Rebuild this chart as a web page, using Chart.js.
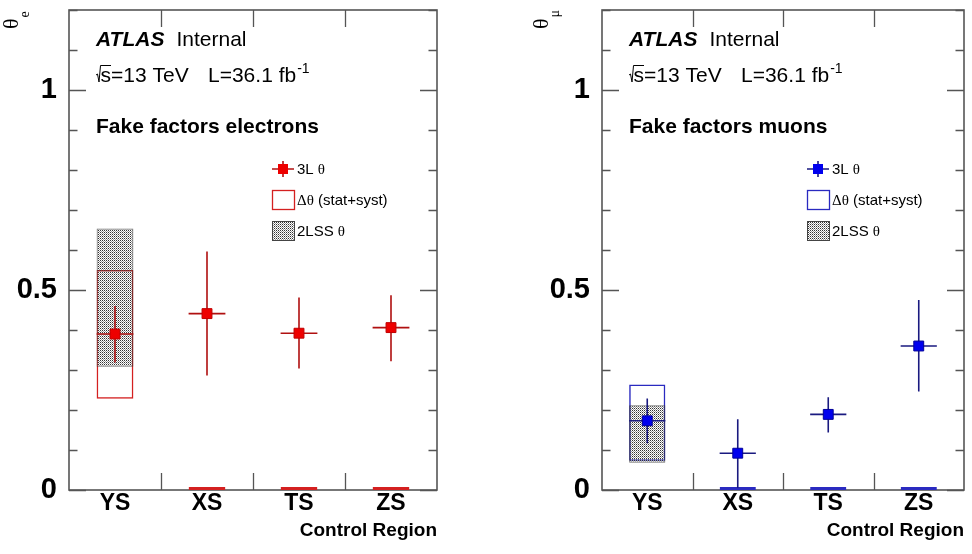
<!DOCTYPE html>
<html><head><meta charset="utf-8">
<script src="https://cdn.jsdelivr.net/npm/chart.js@4.4.1/dist/chart.umd.min.js"></script>
<style>
html,body{margin:0;padding:0;background:#fff;}
#wrap{position:relative;width:972px;height:554px;background:#fff;}
.panel{position:absolute;top:0;width:486px;height:554px;}
</style></head><body>
<div id="wrap">
<div class="panel" style="left:0"><canvas id="cE" width="486" height="554"></canvas></div>
<div class="panel" style="left:486px"><canvas id="cM" width="486" height="554"></canvas></div>
</div>
<script>
// ---------------- data ----------------
const categories = ['YS', 'XS', 'TS', 'ZS'];
const yLabelValues = [0, 0.5, 1];
const xAxisTitle = 'Control Region';

const elecTheta3L  = [0.390, 0.441, 0.392, 0.406];
const elecErrLow   = [0.319, 0.286, 0.304, 0.322];
const elecErrHigh  = [0.460, 0.596, 0.481, 0.487];
const elecDeltaLow  = [0.228, 0, 0, 0];
const elecDeltaHigh = [0.550, 0, 0, 0];
const elec2LSSLow   = [0.308, null, null, null];
const elec2LSSHigh  = [0.654, null, null, null];

const muonTheta3L  = [0.173, 0.092, 0.189, 0.360];
const muonErrLow   = [0.117, 0.005, 0.144, 0.246];
const muonErrHigh  = [0.229, 0.177, 0.232, 0.475];
const muonDeltaLow  = [0.073, 0, 0, 0];
const muonDeltaHigh = [0.264, 0, 0, 0];
const muon2LSSLow   = [0.068, null, null, null];
const muon2LSSHigh  = [0.212, null, null, null];

const legendLabels = ['3L θ', 'Δθ (stat+syst)', '2LSS θ'];
const XERR = 0.2; // horizontal half-width of error bars, in bins

// ---------------- helpers ----------------
const SANS = '"Liberation Sans", Arial, Helvetica, sans-serif';
const SERIF = '"Liberation Serif", "Times New Roman", serif';

function floating(low, high){ return low.map((l,i)=> l==null ? null : [l, high[i]]); }

function makeHatch(){
  const c = document.createElement('canvas'); c.width = 2; c.height = 2;
  const g = c.getContext('2d');
  g.fillStyle = '#333'; g.fillRect(0,0,1,1);
  g.fillStyle = '#999'; g.fillRect(1,1,1,1);
  return document.getElementById('cE').getContext('2d').createPattern(c, 'repeat');
}

function drawRich(ctx, segs, x, y){
  for (const s of segs){
    ctx.font = s.font;
    ctx.fillText(s.t, x, y + (s.dy||0));
    x += ctx.measureText(s.t).width;
  }
  return x;
}
function splitGreek(text, size){
  const segs = []; let cur = '', curG = null;
  for (const ch of text){
    const g = /[\u0370-\u03FF]/.test(ch);
    if (curG === null || g === curG){ cur += ch; curG = g; }
    else { segs.push({t:cur, font: (curG? size+'px '+SERIF : size+'px '+SANS)}); cur = ch; curG = g; }
  }
  if (cur) segs.push({t:cur, font: (curG? size+'px '+SERIF : size+'px '+SANS)});
  return segs;
}

const decoPlugin = {
  id: 'deco',
  beforeDatasetsDraw(chart, args, o){
    const ctx = chart.ctx, a = chart.chartArea, ys = chart.scales.y, xs = chart.scales.x;
    ctx.save();
    ctx.strokeStyle = '#555'; ctx.lineWidth = 1.6;
    ctx.strokeRect(a.left, a.top, a.right - a.left, a.bottom - a.top);
    ctx.lineWidth = 1.3;
    ctx.beginPath();
    for (let k = 0; k <= 12; k++){
      const v = k / 10, py = Math.round(ys.getPixelForValue(v)) + 0.5;
      const len = (k % 5 === 0) ? 17 : 8.5;
      ctx.moveTo(a.left, py); ctx.lineTo(a.left + len, py);
      ctx.moveTo(a.right, py); ctx.lineTo(a.right - len, py);
    }
    for (let i = 1; i < categories.length; i++){
      const px = Math.round((xs.getPixelForValue(i-1) + xs.getPixelForValue(i)) / 2) + 0.5;
      ctx.moveTo(px, a.bottom); ctx.lineTo(px, a.bottom - 17);
      ctx.moveTo(px, a.top); ctx.lineTo(px, a.top + 17);
    }
    ctx.stroke();
    ctx.restore();
  },
  beforeDatasetDraw(chart, args, o){
    if (args.index !== o.pointIndex) return;
    const ctx = chart.ctx, ys = chart.scales.y, xs = chart.scales.x;
    const bin = xs.getPixelForValue(1) - xs.getPixelForValue(0);
    ctx.save();
    ctx.strokeStyle = o.errColor; ctx.lineWidth = 1.6;
    ctx.beginPath();
    args.meta.data.forEach((pt, i) => {
      const x = pt.x, y = pt.y;
      ctx.moveTo(x - XERR*bin, y); ctx.lineTo(x + XERR*bin, y);
      ctx.moveTo(x, ys.getPixelForValue(o.low[i])); ctx.lineTo(x, ys.getPixelForValue(o.high[i]));
    });
    ctx.stroke();
    ctx.restore();
  },
  afterDraw(chart, args, o){
    const ctx = chart.ctx, a = chart.chartArea, L = a.left;
    ctx.save();
    ctx.fillStyle = '#000'; ctx.textAlign = 'left'; ctx.textBaseline = 'alphabetic';
    ctx.font = 'italic bold 21px ' + SANS;
    ctx.fillText('ATLAS', L + 27, 46);
    const w = ctx.measureText('ATLAS').width;
    ctx.font = '21px ' + SANS;
    ctx.fillText('Internal', L + 27 + w + 12, 46);
    const x0 = L + 27;
    ctx.strokeStyle = '#000'; ctx.lineWidth = 1;
    ctx.beginPath();
    ctx.moveTo(x0, 75); ctx.lineTo(x0 + 1.5, 74); ctx.lineTo(x0 + 3, 82); ctx.lineTo(x0 + 4.5, 65.5); ctx.lineTo(x0 + 15, 65.5);
    ctx.stroke();
    ctx.font = '21px ' + SANS;
    ctx.fillText('s=13 TeV', x0 + 4.5, 82);
    let xe = drawRich(ctx, [{t:'L=36.1 fb', font:'21px ' + SANS}], L + 139, 82);
    ctx.font = '14px ' + SANS;
    ctx.fillText('-1', xe + 1, 73);
    ctx.font = 'bold 21px ' + SANS;
    ctx.fillText(o.title, L + 27, 133);
    // legend
    const rows = [169, 200, 231];
    const mx = L + o.legX;
    ctx.strokeStyle = o.errColor; ctx.lineWidth = 1.6;
    ctx.beginPath();
    ctx.moveTo(mx - 11, rows[0]); ctx.lineTo(mx + 11, rows[0]);
    ctx.moveTo(mx, rows[0] - 8); ctx.lineTo(mx, rows[0] + 8);
    ctx.stroke();
    ctx.fillStyle = o.markerColor;
    ctx.fillRect(mx - 5, rows[0] - 5, 10, 10);
    const bx = mx - 11;
    ctx.strokeStyle = o.boxColor; ctx.lineWidth = 1.3;
    ctx.strokeRect(bx + 0.5, rows[1] - 9.5, 22, 19);
    ctx.fillStyle = o.hatch;
    ctx.fillRect(bx, rows[2] - 10, 23, 20);
    ctx.strokeStyle = '#444'; ctx.lineWidth = 1;
    ctx.strokeRect(bx + 0.5, rows[2] - 9.5, 22, 19);
    ctx.fillStyle = '#000'; ctx.textBaseline = 'middle';
    legendLabels.forEach((t, i) => { drawRich(ctx, splitGreek(t, 15), mx + 14, rows[i] + 1); });
    // y axis title (rotated)
    ctx.translate(L + o.titleDX, 29);
    ctx.rotate(-Math.PI / 2);
    ctx.textBaseline = 'alphabetic';
    ctx.font = '22px ' + SERIF;
    ctx.fillText('θ', 0, 0);
    const tw = ctx.measureText('θ').width;
    ctx.font = '14px ' + SERIF;
    ctx.fillText(o.sub, tw + 1, 11);
    ctx.restore();
  }
};

function makePanel(id, p){
  const ctx = document.getElementById(id).getContext('2d');
  return new Chart(ctx, {
    data: {
      labels: categories,
      datasets: [
        { type: 'line', label: legendLabels[0], data: p.value, showLine: false,
          pointStyle: 'rect', pointRadius: 7, pointHoverRadius: 7,
          pointBackgroundColor: p.markerColor, pointBorderColor: p.markerBorder, pointBorderWidth: 1, order: 0 },
        { type: 'bar', label: legendLabels[2], data: floating(p.lssLow, p.lssHigh),
          backgroundColor: p.hatch, borderColor: 'rgba(50,50,50,0.7)', borderWidth: 1, borderSkipped: false,
          barPercentage: 0.4, categoryPercentage: 1.0, grouped: false, order: 1 },
        { type: 'bar', label: legendLabels[1], data: floating(p.deltaLow, p.deltaHigh),
          backgroundColor: 'rgba(0,0,0,0)', borderColor: p.boxColor, borderWidth: 1.5, borderSkipped: false,
          minBarLength: 3, clip: false,
          barPercentage: 0.4, categoryPercentage: 1.0, grouped: false, order: 2 }
      ]
    },
    options: {
      responsive: false, animation: false, devicePixelRatio: 1,
      layout: { padding: { top: 10, right: p.padRight, left: 0, bottom: 0 } },
      plugins: {
        legend: { display: false }, tooltip: { enabled: false },
        deco: { pointIndex: 0, low: p.errLow, high: p.errHigh, errColor: p.errColor,
                markerColor: p.markerColor, boxColor: p.boxColor, hatch: p.hatch,
                title: p.title, sub: p.sub, legX: p.legX, titleDX: p.titleDX }
      },
      scales: {
        x: { type: 'category', offset: true,
             grid: { display: false, drawTicks: false }, border: { display: false },
             ticks: { font: { family: SANS, weight: 'bold', size: 23 }, color: '#000', padding: 0, maxRotation: 0, autoSkip: false },
             title: { display: true, text: xAxisTitle, align: 'end', color: '#000',
                      font: { family: SANS, weight: 'bold', size: 19 }, padding: { top: 0, bottom: 12 } },
             afterFit(s){ s.height = 64; s.paddingLeft = 0; s.paddingRight = 0; } },
        y: { type: 'linear', min: 0, max: 1.2,
             grid: { display: false, drawTicks: false }, border: { display: false },
             ticks: { stepSize: 0.1, autoSkip: false, padding: 12, color: '#000',
                      font: { family: SANS, weight: 'bold', size: 29 },
                      callback: (v) => { const m = yLabelValues.find(t => Math.abs(t - v) < 1e-6); return m === undefined ? '' : String(m); } },
             afterFit(s){ s.width = p.yWidth; s.paddingTop = 0; s.paddingBottom = 0; } }
      }
    },
    plugins: [decoPlugin]
  });
}

const hatch = makeHatch();
makePanel('cE', {
  value: elecTheta3L, errLow: elecErrLow, errHigh: elecErrHigh,
  deltaLow: elecDeltaLow, deltaHigh: elecDeltaHigh, lssLow: elec2LSSLow, lssHigh: elec2LSSHigh,
  markerColor: '#ee0000', markerBorder: '#c00000', errColor: '#b01010', boxColor: '#d42020', hatch: hatch,
  title: 'Fake factors electrons', sub: 'e', yWidth: 69, padRight: 49, legX: 214, titleDX: -51
});
makePanel('cM', {
  value: muonTheta3L, errLow: muonErrLow, errHigh: muonErrHigh,
  deltaLow: muonDeltaLow, deltaHigh: muonDeltaHigh, lssLow: muon2LSSLow, lssHigh: muon2LSSHigh,
  markerColor: '#0000ee', markerBorder: '#000099', errColor: '#1a1a80', boxColor: '#2a2ac0', hatch: hatch,
  title: 'Fake factors muons', sub: 'μ', yWidth: 116, padRight: 2, legX: 216, titleDX: -54
});
</script>
</body></html>
